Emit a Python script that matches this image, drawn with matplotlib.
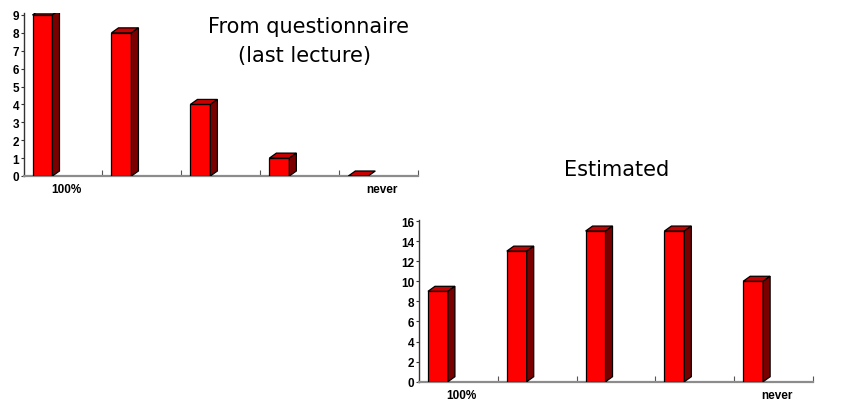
import matplotlib.pyplot as plt
from matplotlib.patches import Polygon

# Data
categories = ["100%", "", "", "", "never"]
questionnaire = [9, 8, 4, 1, 0]
estimated = [9, 13, 15, 15, 10]

FRONT = "#ff0000"
TOP = "#c80000"
SIDE = "#7a0000"


def bars_3d(ax, values, ylim, width_px, height_px):
    # front faces through ax.bar, top/side faces as polygons offset by a few pixels
    x0, x1 = ax.get_xlim()
    dx = 7 * (x1 - x0) / width_px
    dy = 5 * (ylim[1] - ylim[0]) / height_px
    xs = [i - 0.386 for i in range(len(values))]
    w = 0.253
    ax.bar(xs, values, width=w, align="edge", color=FRONT,
           edgecolor="black", linewidth=0.9, zorder=3)
    for x, v in zip(xs, values):
        top = Polygon([(x, v), (x + w, v), (x + w + dx, v + dy), (x + dx, v + dy)],
                      closed=True, facecolor=TOP, edgecolor="black",
                      linewidth=0.9, zorder=3)
        ax.add_patch(top)
        if v > 0:
            side = Polygon([(x + w, 0), (x + w + dx, dy), (x + w + dx, v + dy), (x + w, v)],
                           closed=True, facecolor=SIDE, edgecolor="black",
                           linewidth=0.9, zorder=3)
            ax.add_patch(side)


def style_axes(ax, ylim, yticks):
    ax.set_xlim(-0.5, 4.5)
    ax.set_ylim(*ylim)
    for s in ["top", "right"]:
        ax.spines[s].set_visible(False)
    ax.spines["bottom"].set_color("#8c8c8c")
    ax.spines["bottom"].set_linewidth(1.6)
    ax.spines["left"].set_color("#333333")
    ax.spines["left"].set_linewidth(1.0)
    ax.set_yticks(yticks)
    ax.set_yticklabels([str(t) for t in yticks], fontfamily="Liberation Sans",
                       fontweight="bold", fontsize=8.5)
    ax.tick_params(axis="y", length=2.5, width=0.8, color="#333333", pad=0.8)
    ax.set_xticks([i + 0.04 for i in range(len(categories))])
    ax.set_xticklabels(categories, fontfamily="Liberation Sans",
                       fontweight="bold", fontsize=8.5)
    ax.set_xticks([i + 0.5 for i in range(len(categories))], minor=True)
    ax.tick_params(axis="x", which="major", length=0, pad=5)
    ax.tick_params(axis="x", which="minor", direction="in", length=4,
                   width=0.8, color="#555555")


fig = plt.figure(figsize=(8.44, 4.06), dpi=100)

# Top-left chart
ax1 = fig.add_axes([23.5 / 844, 229 / 406, 394.8 / 844, 163 / 406])
ylim1 = (0, 9.11)
style_axes(ax1, ylim1, list(range(0, 10)))
bars_3d(ax1, questionnaire, ylim1, 394.8, 163)

# Bottom-right chart
ax2 = fig.add_axes([419 / 844, 23.3 / 406, 394 / 844, 162 / 406])
ylim2 = (0, 16.13)
style_axes(ax2, ylim2, list(range(0, 17, 2)))
bars_3d(ax2, estimated, ylim2, 394, 162)

fig.text(309 / 844, 1 - 33 / 406, "From questionnaire", ha="center",
         va="baseline", fontsize=15, fontfamily="DejaVu Sans")
fig.text(305 / 844, 1 - 62 / 406, "(last lecture)", ha="center",
         va="baseline", fontsize=15, fontfamily="DejaVu Sans")
fig.text(617 / 844, 1 - 176 / 406, "Estimated", ha="center",
         va="baseline", fontsize=15, fontfamily="DejaVu Sans")

fig.savefig("out.png", dpi=100)
